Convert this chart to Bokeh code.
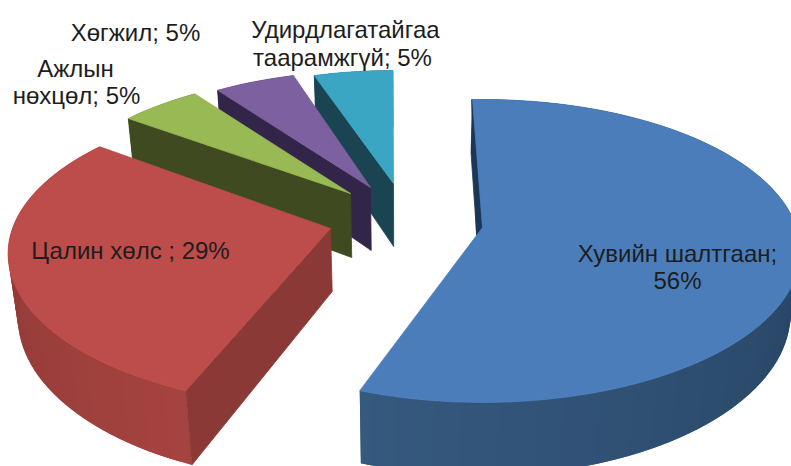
import numpy as np
from bokeh.plotting import figure
from bokeh.models import Range1d
from bokeh.core.properties import value
from bokeh.embed import file_html
from bokeh.resources import INLINE

# --- data ---
categories = ["Хувийн шалтгаан", "Цалин хөлс", "Ажлын нөхцөл", "Хөгжил", "Удирдлагатайгаа таарамжгүй"]
shares = [56, 29, 5, 5, 5]

# --- look of the slices (one entry per category) ---
top_colors = ["#4a7dba", "#bd4d4a", "#98b954", "#7d60a0", "#3aa6c4"]
wall_colors = ["#1c3756", "#8b3936", "#3f4a20", "#33254a", "#1b4453"]
side_from = ["#19324c", "#a54340", "#4a5726", "#33254a", "#1b4453"]
side_to = ["#36597f", "#843532", "#3f4a20", "#33254a", "#1b4453"]
apexes = [(482, 227), (330, 228), (350, 193), (370, 187), (393, 183)]
radius_x = [314, 318, 298, 291, 283]
radius_y = [147.8, 149, 133, 130, 126]
persp = [0.155, 0.165, 0.1155, 0.1155, 0.1155]
angle_nudge = [0, 3.2, 3.2, 3.0, 2.0]
depths = [62, 63, 64, 63, 63]
first_angle = -2.1
VANISH_X, VANISH_H = 400, 2600
STEP = 2.0


def rim(i, deg):
    t = np.radians(deg)
    w = 1 + persp[i] * np.cos(t)
    return (apexes[i][0] + radius_x[i] * np.sin(t) / w,
            apexes[i][1] - radius_y[i] * np.cos(t) / w,
            depths[i] / w)


def drop(x, y, d):
    return x + (VANISH_X - x) * d / VANISH_H, y + d


def hex_mix(a, b, f):
    ca = [int(a[k:k + 2], 16) for k in (1, 3, 5)]
    cb = [int(b[k:k + 2], 16) for k in (1, 3, 5)]
    return "#%02x%02x%02x" % tuple(int(round(u + (v - u) * f)) for u, v in zip(ca, cb))


p = figure(width=791, height=466, output_backend="svg", toolbar_location=None,
           x_range=Range1d(0, 791), y_range=Range1d(466, 0), min_border=0,
           background_fill_color="white", border_fill_color="white", outline_line_color=None)
p.axis.visible = False
p.grid.visible = False

total = sum(shares)
cum = np.cumsum([0] + shares) / total * 360.0 + first_angle

# back to front: last slice first
for i in range(len(shares) - 1, -1, -1):
    a0, a1 = cum[i] + angle_nudge[i], cum[i + 1] + angle_nudge[i]
    deg = np.linspace(a0, a1, max(int((a1 - a0) / STEP) + 1, 6))
    xs, ys, ds = rim(i, deg)
    ax, ay = apexes[i]
    bx, by = drop(xs, ys, ds)

    # outer band, shaded step by step; each quad reaches under the next one
    qx, qy, qc = [], [], []
    for k in range(len(deg) - 1):
        e = min(k + 2, len(deg) - 1)
        qx.append([xs[k], xs[e], bx[e], bx[k]])
        qy.append([ys[k], ys[e], by[e], by[k]])
        qc.append(hex_mix(side_from[i], side_to[i], np.clip((deg[k] - a0) / (a1 - a0), 0, 1)))
    if i == 0:
        # painted from the far end so that every seam lies on an overlap
        qx, qy, qc = qx, qy, qc
    p.patches(qx, qy, fill_color=qc, line_color=None)

    # wall on the slice's first edge
    ad = depths[i]
    abx, aby = drop(ax, ay, ad)
    p.patch([xs[0], ax, abx, bx[0]], [ys[0], ay, aby, by[0]],
            fill_color=wall_colors[i], line_color=wall_colors[i], line_width=0.8)
    if i == 0:
        p.patch([xs[0], ax, ax - 6, xs[0] - 1], [ys[0], ay, ay + 7, ys[0]],
                fill_color=wall_colors[i], line_color=wall_colors[i], line_width=0.8)

    # top face
    p.patch(np.r_[ax, xs], np.r_[ay, ys], fill_color=top_colors[i], line_color=top_colors[i], line_width=0.8)

# --- labels ---
label_text = ["Хувийн шалтгаан;", "56%", "Цалин хөлс ; 29%", "Ажлын", "нөхцөл; 5%",
              "Хөгжил; 5%", "Удирдлагатайгаа", "таарамжгүй; 5%"]
label_x = [677, 677, 130, 75, 76, 135, 345, 342]
label_y = [253, 280, 250, 68, 95, 32, 29, 57]
p.text(label_x, label_y, text=label_text, text_font=value("Liberation Sans"),
       text_font_size="24px", text_color="#1d1d1d", text_align="center", text_baseline="middle")

open("out.html", "w").write(file_html(p, INLINE))
